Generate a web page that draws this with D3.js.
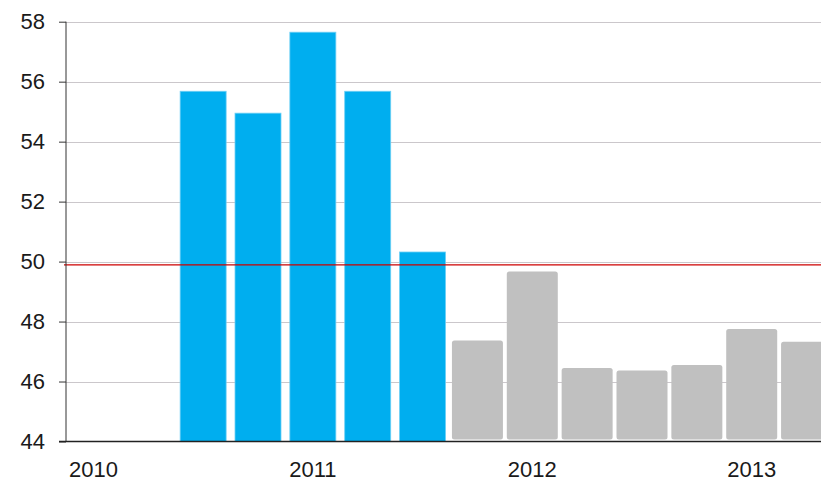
<!DOCTYPE html>
<html><head><meta charset="utf-8">
<script src="https://cdn.jsdelivr.net/npm/d3@7"></script>
<style>body{margin:0;background:#fff}svg{display:block}text{font-family:"Liberation Sans",Arial,sans-serif;fill:#1a1a1a}</style>
</head><body><svg id="c" width="821" height="482"></svg>
<script>
const quarters = ["2010 Q1","2010 Q2","2010 Q3","2010 Q4","2011 Q1","2011 Q2","2011 Q3","2011 Q4","2012 Q1","2012 Q2","2012 Q3","2012 Q4","2013 Q1","2013 Q2"];
const values = [null,null,55.68,54.95,57.65,55.68,50.32,47.37,49.67,46.45,46.37,46.55,47.75,47.33];
const kinds = ["","","blue","blue","blue","blue","blue","gray","gray","gray","gray","gray","gray","gray"];
const yTicks = [44,46,48,50,52,54,56,58];
const xTickLabels = {"2010 Q1":"2010","2011 Q1":"2011","2012 Q1":"2012","2013 Q1":"2013"};
const refValue = 49.89;

const svg = d3.select("#c");
const pL = 66, pR = 834, pT = 21.7, pB = 441.5;
const x = d3.scaleBand().domain(quarters).range([pL, pR]).paddingInner(0).paddingOuter(0);
const y = d3.scaleLinear().domain([44, 58]).range([pB, pT]);

// gridlines
svg.append("g").selectAll("line").data(yTicks.filter(t => t > 44)).join("line")
  .attr("x1", pL).attr("x2", 821)
  .attr("y1", d => Math.round(y(d)) + 0.5).attr("y2", d => Math.round(y(d)) + 0.5)
  .attr("stroke", "#cbc7cb").attr("stroke-width", 1.2);

// bars
const data = quarters.map((q, i) => ({q, v: values[i], k: kinds[i]})).filter(d => d.v != null);
svg.append("g").selectAll("rect").data(data).join("rect")
  .attr("x", d => x(d.q) + x.bandwidth() / 2 - (d.k === "blue" ? 23 : 25.5))
  .attr("width", d => d.k === "blue" ? 46 : 51)
  .attr("y", d => y(d.v))
  .attr("height", d => pB - y(d.v) - (d.k === "blue" ? 0 : 2))
  .attr("rx", d => d.k === "blue" ? 0 : 2.5)
  .attr("fill", d => d.k === "blue" ? "#00aeef" : "#c0c0c0")
  .attr("stroke", d => d.k === "blue" ? "#6fd0f5" : "none")
  .attr("stroke-width", 0.8);

// reference line
svg.append("line").attr("x1", pL - 2).attr("x2", 821)
  .attr("y1", y(refValue)).attr("y2", y(refValue))
  .attr("stroke", "#cc0000").attr("stroke-width", 1.3);

// y axis
const yAxis = d3.axisLeft(y).tickValues(yTicks).tickSize(7).tickPadding(14).tickFormat(d3.format("d"));
const ga = svg.append("g").attr("transform", `translate(${pL},0)`).call(yAxis);
ga.select(".domain").attr("stroke", "#333").attr("d", `M0,${pT}V${pB}`);
ga.selectAll(".tick line").attr("stroke", "#333");
ga.selectAll("text").attr("font-size", 22).style("font-family", "Liberation Sans, Arial, sans-serif").attr("fill", "#111");

// baseline
svg.append("line").attr("x1", pL - 7).attr("x2", 821).attr("y1", pB).attr("y2", pB)
  .attr("stroke", "#222").attr("stroke-width", 1.3);

// x axis labels
const xAxis = d3.axisBottom(x).tickValues(quarters.filter(q => xTickLabels[q])).tickSize(0).tickPadding(20)
  .tickFormat(q => xTickLabels[q]);
const gx = svg.append("g").attr("transform", `translate(0,${pB})`).call(xAxis);
gx.select(".domain").remove();
gx.selectAll("text").attr("font-size", 22).style("font-family", "Liberation Sans, Arial, sans-serif").attr("fill", "#111");
</script></body></html>
